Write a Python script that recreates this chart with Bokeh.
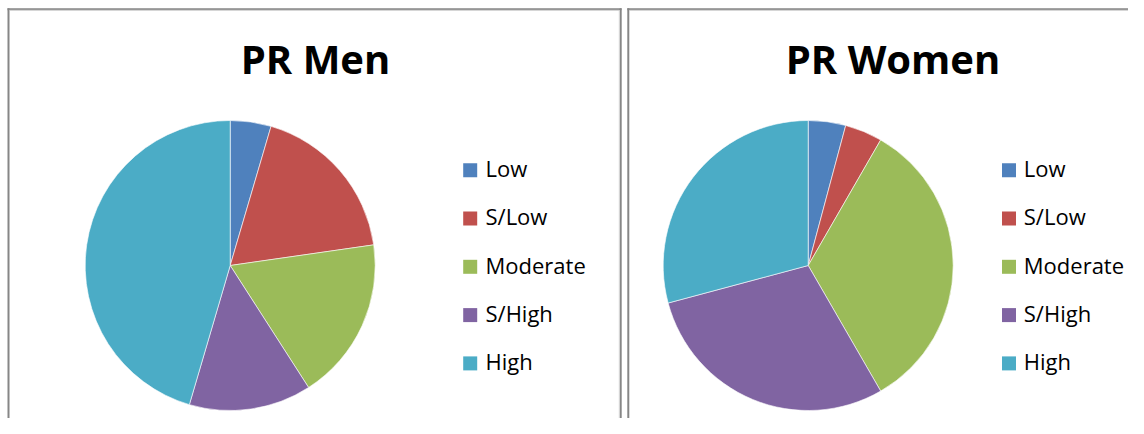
import numpy as np
from bokeh.plotting import figure
from bokeh.models import Range1d, ColumnDataSource
from bokeh.layouts import row
from bokeh.core.properties import value
from bokeh.embed import file_html
from bokeh.resources import INLINE

# ---- data ----
categories = ["Low", "S/Low", "Moderate", "S/High", "High"]
men_values = [1, 4, 4, 3, 10]
women_values = [1, 1, 8, 7, 7]
colors = ["#4F81BD", "#C0504D", "#9BBB59", "#8064A2", "#4BACC6"]
titles = ["PR Men", "PR Women"]

H = 418
DARK = "#868686"
LIGHT = "#D4D4D4"


def make_panel(title, values, W, cx, cy, r, title_x, sq_x, text_x, borders):
    p = figure(width=W, height=H, x_range=Range1d(0, W), y_range=Range1d(0, H),
               output_backend="svg", toolbar_location=None, min_border=0)
    p.axis.visible = False
    p.grid.visible = False
    p.outline_line_color = None
    p.background_fill_color = "white"
    p.border_fill_color = "white"

    vals = np.array(values, dtype=float)
    frac = vals / vals.sum()
    cum = np.concatenate([[0.0], np.cumsum(frac)])
    start = np.pi / 2 - cum[:-1] * 2 * np.pi
    end = np.pi / 2 - cum[1:] * 2 * np.pi
    src = ColumnDataSource(dict(cat=categories, val=values, start=start, end=end, color=colors))
    p.wedge(x=cx, y=cy, radius=r, start_angle="start", end_angle="end",
            direction="clock", fill_color="color", line_color="white",
            line_width=0.6, source=src)

    # title
    p.text(x=[title_x], y=[360.5], text=[title], text_align="center",
           text_baseline="alphabetic", text_font=value("Open Sans"),
           text_font_style="bold", text_font_size="40px", text_color="black")

    # legend
    step = 48.3
    idx = np.arange(len(categories))
    leg = ColumnDataSource(dict(
        cat=categories, color=colors,
        sy=248.3 - idx * step, ty=250.5 - idx * step,
        sx=[sq_x] * len(categories), tx=[text_x] * len(categories)))
    p.rect(x="sx", y="sy", width=14, height=14, fill_color="color",
           line_color=None, source=leg)
    p.text(x="tx", y="ty", text="cat", text_align="left",
           text_baseline="alphabetic", text_font=value("Open Sans"),
           text_font_size="22px", text_color="black", source=leg)

    # panel borders (decoration)
    for (x0, y0, x1, y1, c, w) in borders:
        p.segment(x0=[x0], y0=[y0], x1=[x1], y1=[y1], line_color=c, line_width=w)
    return p


left_borders = [
    (8, 0, 8, 410.3, DARK, 2),
    (7, 409.3, 621, 409.3, DARK, 2),
    (9, 408.2, 619, 408.2, LIGHT, 1),
    (620.2, 0, 620.2, 410.3, DARK, 2),
    (618.8, 0, 618.8, 408.2, LIGHT, 1),
]
right_borders = [
    (3.8, 0, 3.8, 410.3, DARK, 2),
    (2.8, 409.3, 504, 409.3, DARK, 2),
    (5, 408.2, 504, 408.2, LIGHT, 1),
]

p1 = make_panel(titles[0], men_values, 624, 229.7, 153, 145, 315, 469.7, 485, left_borders)
p2 = make_panel(titles[1], women_values, 504, 183.7, 153, 145, 268.5, 384.5, 399.3, right_borders)

layout = row(p1, p2, spacing=0)
open("out.html", "w").write(file_html(layout, INLINE))
